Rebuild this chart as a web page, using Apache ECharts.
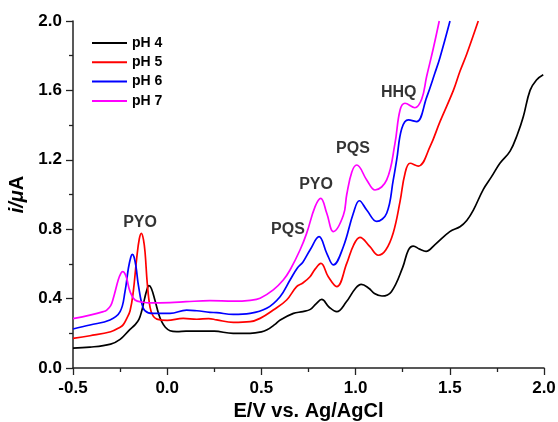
<!DOCTYPE html>
<html>
<head>
<meta charset="utf-8">
<title>CV pH</title>
<script src="https://cdn.jsdelivr.net/npm/echarts@6/dist/echarts.min.js"></script>
<style>
  html, body { margin: 0; padding: 0; background: #fff; }
  #chart { width: 558px; height: 422px; }
</style>
</head>
<body>
<div id="chart"></div>
<script>
// curves: [E/V, i/uA]
var ph4 = [[-0.5,0.115],[-0.41,0.12],[-0.3,0.138],[-0.25,0.165],[-0.2,0.22],[-0.17,0.25],[-0.15,0.28],[-0.135,0.33],[-0.12,0.40],
  [-0.108,0.45],[-0.097,0.475],[-0.084,0.458],[-0.065,0.39],[-0.045,0.31],[-0.029,0.267],[-0.01,0.235],[0.015,0.215],[0.05,0.21],
  [0.1,0.212],[0.19,0.213],[0.25,0.212],[0.35,0.2],[0.44,0.2],[0.5,0.208],[0.53,0.22],[0.57,0.25],[0.6,0.277],[0.67,0.315],[0.72,0.325],
  [0.76,0.338],[0.79,0.37],[0.82,0.395],[0.86,0.35],[0.9,0.325],[0.95,0.38],[1.0,0.46],[1.03,0.482],[1.07,0.46],[1.1,0.43],[1.14,0.415],
  [1.19,0.44],[1.25,0.58],[1.28,0.68],[1.306,0.703],[1.34,0.685],[1.374,0.672],[1.42,0.71],[1.5,0.786],[1.554,0.814],[1.59,0.85],
  [1.625,0.91],[1.678,1.03],[1.72,1.1],[1.766,1.18],[1.82,1.25],[1.86,1.35],[1.89,1.448],[1.926,1.6],[1.96,1.66],[1.996,1.69]];
var ph5 = [[-0.5,0.171],[-0.41,0.186],[-0.3,0.209],[-0.25,0.235],[-0.233,0.25],[-0.215,0.285],[-0.197,0.33],[-0.18,0.44],[-0.162,0.632],
  [-0.148,0.745],[-0.137,0.776],[-0.126,0.74],[-0.117,0.66],[-0.106,0.49],[-0.091,0.35],[-0.075,0.3],[-0.055,0.282],[0.0,0.275],
  [0.085,0.286],[0.157,0.281],[0.22,0.285],[0.263,0.277],[0.351,0.263],[0.44,0.267],[0.493,0.286],[0.563,0.334],[0.634,0.392],[0.687,0.469],
  [0.72,0.49],[0.758,0.526],[0.785,0.57],[0.816,0.603],[0.855,0.526],[0.9,0.469],[0.953,0.603],[0.99,0.71],[1.023,0.753],[1.076,0.699],
  [1.12,0.65],[1.16,0.68],[1.2,0.78],[1.236,0.96],[1.262,1.12],[1.289,1.18],[1.333,1.164],[1.395,1.276],[1.448,1.42],[1.519,1.6],
  [1.554,1.71],[1.59,1.81],[1.651,2.0]];
var ph6 = [[-0.5,0.225],[-0.41,0.248],[-0.304,0.277],[-0.25,0.325],[-0.224,0.44],[-0.206,0.575],[-0.193,0.64],[-0.185,0.655],
  [-0.176,0.64],[-0.165,0.58],[-0.153,0.478],[-0.127,0.344],[-0.1,0.318],[-0.074,0.315],[0.015,0.315],[0.103,0.334],[0.157,0.33],
  [0.227,0.321],[0.263,0.319],[0.351,0.309],[0.44,0.315],[0.528,0.344],[0.599,0.411],[0.652,0.507],[0.69,0.575],[0.72,0.61],[0.758,0.68],
  [0.806,0.757],[0.847,0.661],[0.882,0.594],[0.935,0.699],[0.988,0.892],[1.02,0.964],[1.059,0.911],[1.112,0.845],[1.165,0.892],
  [1.2,1.084],[1.218,1.199],[1.245,1.38],[1.28,1.43],[1.324,1.42],[1.377,1.56],[1.421,1.70],[1.448,1.79],[1.501,2.0]];
var ph7 = [[-0.5,0.285],[-0.41,0.305],[-0.339,0.325],[-0.321,0.334],[-0.3,0.36],[-0.286,0.402],[-0.26,0.507],[-0.246,0.545],
  [-0.236,0.555],[-0.225,0.545],[-0.215,0.517],[-0.197,0.44],[-0.171,0.392],[-0.127,0.379],[-0.091,0.375],[0.015,0.377],[0.1,0.382],
  [0.227,0.388],[0.351,0.385],[0.44,0.39],[0.493,0.402],[0.563,0.45],[0.616,0.507],[0.652,0.565],[0.705,0.68],[0.74,0.776],[0.785,0.93],
  [0.815,0.978],[0.847,0.892],[0.882,0.786],[0.935,0.88],[0.953,1.0],[0.98,1.13],[1.006,1.17],[1.059,1.084],[1.103,1.026],[1.165,1.084],
  [1.209,1.295],[1.236,1.487],[1.262,1.526],[1.315,1.5],[1.351,1.55],[1.377,1.68],[1.412,1.84],[1.444,2.0]];

var seriesNames = ['pH 4', 'pH 5', 'pH 6', 'pH 7'];
var seriesColors = ['#000000', '#ff0000', '#0000ff', '#ff00ff'];
var curves = [ph4, ph5, ph6, ph7];

// peak labels
var peakNames = ['PYO', 'PQS', 'PYO', 'PQS', 'HHQ'];
var peakX = [-0.144, 0.641, 0.79, 0.986, 1.229];
var peakY = [0.84, 0.80, 1.055, 1.262, 1.585];

var font = 'Arial, "Liberation Sans", sans-serif';

var series = curves.map(function (d, i) {
  return {
    name: seriesNames[i],
    type: 'line',
    data: d,
    smooth: 0.4,
    symbol: 'none',
    showSymbol: false,
    lineStyle: { color: seriesColors[i], width: 1.7 },
    itemStyle: { color: seriesColors[i] }
  };
});
series.push({
  name: 'labels',
  type: 'scatter',
  symbolSize: 0,
  data: peakNames.map(function (n, i) { return { name: n, value: [peakX[i], peakY[i]] }; }),
  label: {
    show: true, position: [0, 0], align: 'center', verticalAlign: 'middle', formatter: '{b}',
    color: '#000', fontWeight: 'bold', fontSize: 16, fontFamily: font, textBorderWidth: 0
  },
  silent: true
});

var chart = echarts.init(document.getElementById('chart'));
var option = {
  animation: false,
  backgroundColor: '#fff',
  grid: { left: 73, right: 14, top: 21, bottom: 54, containLabel: false, outerBoundsMode: 'none' },
  legend: {
    data: seriesNames.map(function (n) { return { name: n, icon: 'rect' }; }),
    orient: 'vertical',
    left: 87, top: 30,
    itemWidth: 35, itemHeight: 2, itemGap: 3.3,
    textStyle: { fontFamily: font, fontWeight: 'bold', fontSize: 14, color: '#000', lineHeight: 16 }
  },
  xAxis: {
    type: 'value', min: -0.5, max: 2.0, interval: 0.5,
    name: 'E/V vs. Ag/AgCl', nameLocation: 'middle', nameGap: 31,
    nameTextStyle: { fontFamily: font, fontWeight: 'bold', fontSize: 20, color: '#000' },
    axisLine: { onZero: false, lineStyle: { color: '#222', width: 1.5 } },
    axisTick: { show: true, inside: false, length: 7, lineStyle: { color: '#222', width: 1.3 } },
    minorTick: { show: true, splitNumber: 2, length: 4, lineStyle: { color: '#222', width: 1.3 } },
    axisLabel: { fontFamily: font, fontWeight: 'bold', fontSize: 17, color: '#000', margin: 12,
      formatter: function (v) { return v.toFixed(1); } },
    splitLine: { show: false }
  },
  yAxis: {
    type: 'value', min: 0, max: 2.0, interval: 0.4,
    name: '{it|i/μ}A', nameLocation: 'middle', nameGap: 32,
    nameTextStyle: { fontFamily: font, fontWeight: 'bold', fontSize: 20, color: '#000',
      rich: { it: { fontFamily: font, fontWeight: 'bold', fontStyle: 'italic', fontSize: 20, color: '#000' } } },
    axisLine: { show: true, onZero: false, lineStyle: { color: '#222', width: 1.5 } },
    axisTick: { show: true, inside: false, length: 7, lineStyle: { color: '#222', width: 1.3 } },
    minorTick: { show: true, splitNumber: 2, length: 4, lineStyle: { color: '#222', width: 1.3 } },
    axisLabel: { fontFamily: font, fontWeight: 'bold', fontSize: 17, color: '#000', margin: 11,
      formatter: function (v) { return v.toFixed(1); } },
    splitLine: { show: false }
  },
  series: series
};
chart.setOption(option);
</script>
</body>
</html>
